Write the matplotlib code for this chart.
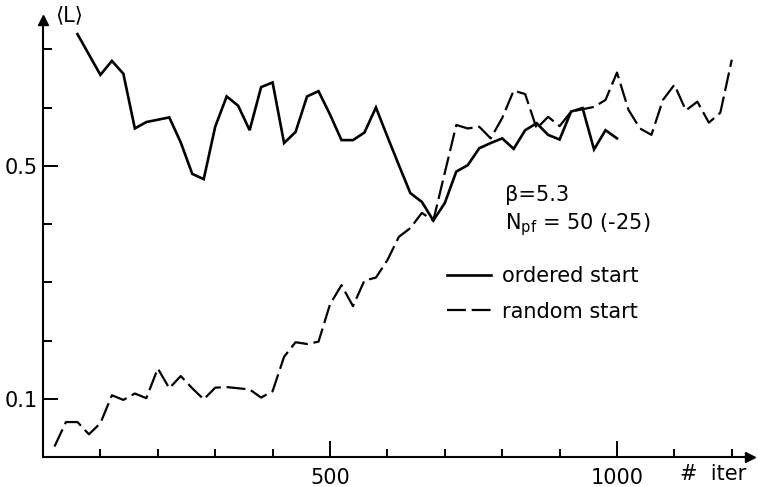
import matplotlib
matplotlib.use("Agg")
import matplotlib.pyplot as plt

# Polyakov loop <L> vs number of iterations, two starts
iter_ordered = list(range(60, 1001, 20))
L_ordered = [0.726, 0.691, 0.656, 0.680, 0.658, 0.564, 0.575, 0.579, 0.583, 0.540,
             0.486, 0.477, 0.567, 0.619, 0.603, 0.561, 0.635, 0.643, 0.539, 0.558,
             0.619, 0.628, 0.588, 0.544, 0.544, 0.557, 0.600, 0.550, 0.501, 0.453,
             0.438, 0.406, 0.436, 0.490, 0.501, 0.530, 0.539, 0.547, 0.529, 0.561,
             0.573, 0.553, 0.545, 0.593, 0.599, 0.528, 0.561, 0.547]

iter_random = list(range(20, 1201, 20))
L_random = [0.018, 0.060, 0.060, 0.039, 0.058, 0.106, 0.098, 0.109, 0.101, 0.152,
            0.118, 0.139, 0.118, 0.099, 0.119, 0.120, 0.118, 0.116, 0.102, 0.113,
            0.172, 0.197, 0.194, 0.198, 0.262, 0.295, 0.259, 0.303, 0.308, 0.338,
            0.378, 0.393, 0.419, 0.406, 0.488, 0.570, 0.564, 0.567, 0.547, 0.582,
            0.629, 0.623, 0.564, 0.584, 0.568, 0.593, 0.597, 0.601, 0.613, 0.660,
            0.596, 0.564, 0.553, 0.613, 0.639, 0.595, 0.610, 0.574, 0.591, 0.682]

x_major = [500, 1000]
x_major_labels = ["500", "1000"]
x_minor = [100, 200, 300, 400, 600, 700, 800, 900, 1100, 1200]
y_major = [0.1, 0.5]
y_major_labels = ["0.1", "0.5"]
y_minor = [0.2, 0.3, 0.4, 0.6, 0.7]

W, H = 758, 487
FS = 15


def fig_xy(x, y):
    # pixel position -> figure fraction
    return x / W, 1 - y / H


plt.rcParams['font.family'] = ['DejaVu Sans']
plt.rcParams['mathtext.fontset'] = 'dejavusans'

fig = plt.figure(figsize=(W / 100, H / 100), dpi=100)
ax = fig.add_axes([43 / W, (H - 457) / H, (750 - 43) / W, (457 - 20) / H])

ax.plot(iter_ordered, L_ordered, color='black', lw=1.9, label='ordered start',
        solid_joinstyle='miter')
ax.plot(iter_random, L_random, color='black', lw=1.6, linestyle=(0, (8.5, 2.6)),
        label='random start')

ax.set_xlim(0, (750 - 43) / 0.574)
ax.set_ylim(0, (457 - 20) / 582.5)

for side in ['top', 'right']:
    ax.spines[side].set_visible(False)
for side in ['left', 'bottom']:
    ax.spines[side].set_linewidth(1.5)

# arrow heads on the axes
ax.plot(1, 0, '>', color='black', ms=7, transform=ax.get_yaxis_transform(), clip_on=False)
ax.plot(0, 1, '^', color='black', ms=7, transform=ax.get_xaxis_transform(), clip_on=False)

ax.set_xticks(x_major, labels=x_major_labels)
ax.set_xticks(x_minor, minor=True)
ax.set_yticks(y_major, labels=y_major_labels)
ax.set_yticks(y_minor, minor=True)
ax.tick_params(which='both', direction='in', width=1.4, labelsize=FS)
ax.tick_params(axis='x', which='major', length=11.5, pad=8)
ax.tick_params(axis='x', which='minor', length=6)
ax.tick_params(axis='y', which='major', length=11, pad=3.5)
ax.tick_params(axis='y', which='minor', length=6.5)

fig.text(*fig_xy(55, 15), "⟨L⟩", fontsize=FS, ha='left', va='center')
fig.text(*fig_xy(680, 474), "#  iter", fontsize=FS, ha='left', va='center')
fig.text(*fig_xy(505, 195), "β=5.3", fontsize=FS, ha='left', va='center')
fig.text(*fig_xy(505, 229), r"N$_{\mathrm{pf}}$ = 50 (-25)", fontsize=FS,
         ha='left', va='baseline')

ax.legend(loc='upper left', bbox_to_anchor=fig_xy(447, 266), bbox_transform=fig.transFigure,
          frameon=False, fontsize=FS, handlelength=2.1, handletextpad=0.55,
          labelspacing=0.75, borderpad=0, borderaxespad=0)

fig.savefig("out.png", dpi=100)
